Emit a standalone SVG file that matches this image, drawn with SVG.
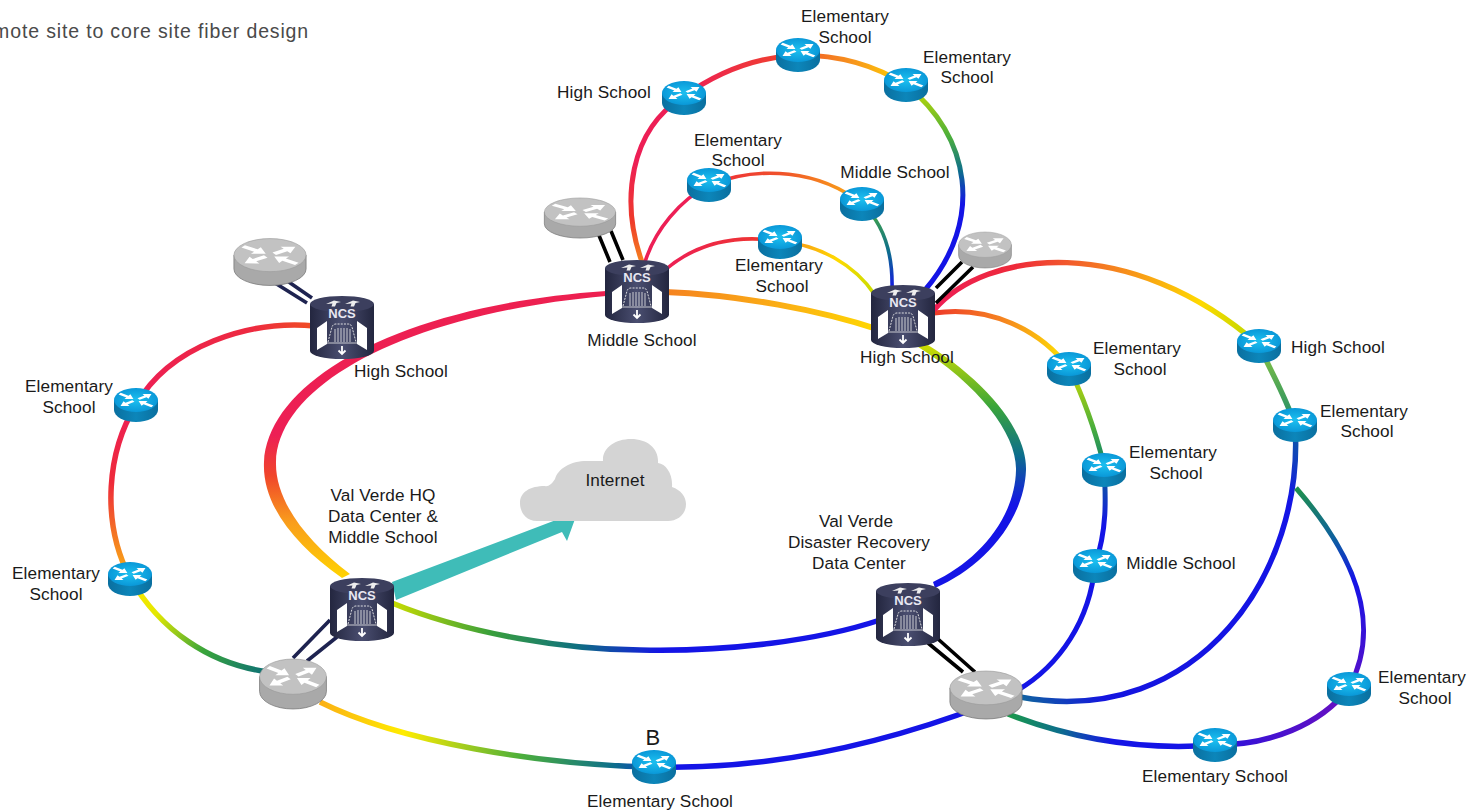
<svg xmlns="http://www.w3.org/2000/svg" xmlns:xlink="http://www.w3.org/1999/xlink" width="1470" height="812" viewBox="0 0 1470 812">
<style>
text{font-family:"Liberation Sans",Arial,sans-serif;font-size:17.2px;letter-spacing:.1px;fill:#1a1a1a;text-anchor:middle}
.title{font-size:19.5px;letter-spacing:.85px;fill:#4a4a4a;text-anchor:end}
.ncs{font-size:13px;letter-spacing:0;font-weight:bold;fill:#e8e8f2}
.c{fill:none;stroke-linecap:butt}
.w5{stroke-width:5.5px}.w4{stroke-width:5px}.w3{stroke-width:3.6px}
.navy{stroke:#1e2350;stroke-width:3.6px;fill:none}
.blk{stroke:#000;stroke-width:3.6px;fill:none}
</style>
<defs>
<linearGradient id="side" x1="0" x2="1" y1="0" y2="0"><stop offset="0" stop-color="#0a6f9f"/><stop offset=".5" stop-color="#0c86ba"/><stop offset="1" stop-color="#0a6f9f"/></linearGradient>
<radialGradient id="topb"><stop offset="0" stop-color="#1cc0f0"/><stop offset="1" stop-color="#0a98d8"/></radialGradient>
<linearGradient id="nside" x1="0" x2="1" y1="0" y2="0"><stop offset="0" stop-color="#23263f"/><stop offset=".5" stop-color="#4a4e70"/><stop offset="1" stop-color="#23263f"/></linearGradient>
<polygon id="aout" fill="#fff" points="3,-1.8 11,-1.8 11,-5 18,0 11,5 11,1.8 3,1.8"/>
<polygon id="ain" fill="#fff" points="3,0 10,-5 10,-1.8 19,-1.8 19,1.8 10,1.8 10,5"/>
<g id="xg" transform="scale(1.05,.58)"><use href="#aout" transform="rotate(-35)"/><use href="#aout" transform="rotate(145)"/><use href="#ain" transform="rotate(35)"/><use href="#ain" transform="rotate(215)"/></g>
<g id="rb"><path fill="url(#side)" d="M-22,-5 V5 A22,12 0 0 0 22,5 V-5 Z"/><ellipse cy="-5" rx="22" ry="12" fill="url(#topb)"/><use href="#xg" y="-5"/></g>
<g id="rg"><path fill="#a9a9a9" stroke="#777" stroke-width=".5" d="M-22,-5 V5 A22,12 0 0 0 22,5 V-5 Z"/><ellipse cy="-5" rx="22" ry="12" fill="#c2c2c2" stroke="#999" stroke-width=".4"/><use href="#xg" y="-5"/></g>
<g id="ncsn">
<path fill="url(#nside)" d="M-32,-23 V24 A32,8 0 0 0 32,24 V-23 Z"/>
<ellipse cy="-23" rx="32" ry="8" fill="#3c3f5e"/>
<path fill="#eee" d="M-16,-23 L-8,-26.5 L-1,-25 L-5.5,-24 L-7,-20.5 L-10.5,-20.5 L-9.5,-23.5 Z M3,-23 L11,-26.5 L18,-25 L13.5,-24 L12,-20.5 L8.5,-20.5 L9.5,-23.5 Z"/>
<text class="ncs" y="-8.8">NCS</text>
<path fill="#fff" d="M-25,1 L-15,-6 V17 L-25,23 Z M25,1 L15,-6 V17 L25,23 Z"/>
<path fill="none" stroke="#eee" stroke-width=".9" stroke-dasharray="2 1.2" d="M-14,15 L-10,0 Q-9,-3 -6,-3 H6 Q9,-3 10,0 L14,15"/>
<path fill="none" stroke="#eee" stroke-width=".8" d="M-15,16 H15 M-7,15 V2 M-4,15 V1 M-1,15 V1 M2,15 V1 M5,15 V1 M8,15 V2"/>
<path fill="none" stroke="#fff" stroke-width="1.8" d="M0,19 V27 M-3.5,23.5 L0,27 L3.5,23.5"/>
</g>

<linearGradient id="ringL" gradientUnits="userSpaceOnUse" x1="0" y1="580" x2="0" y2="290"><stop offset="0" stop-color="#ffd500"/><stop offset=".2" stop-color="#f99d1c"/><stop offset=".36" stop-color="#f0452a"/><stop offset=".5" stop-color="#ed1f55"/><stop offset="1" stop-color="#ed2050"/></linearGradient>
<linearGradient id="ringT" gradientUnits="userSpaceOnUse" x1="665" y1="292" x2="880" y2="330"><stop offset="0" stop-color="#f58220"/><stop offset=".55" stop-color="#fbb014"/><stop offset="1" stop-color="#ffd900"/></linearGradient>
<linearGradient id="ringR" gradientUnits="userSpaceOnUse" x1="0" y1="345" x2="0" y2="590"><stop offset="0" stop-color="#cfdc00"/><stop offset=".25" stop-color="#3aa53a"/><stop offset=".45" stop-color="#0d6e8c"/><stop offset=".65" stop-color="#1414e6"/><stop offset="1" stop-color="#1414e6"/></linearGradient>
<linearGradient id="ringB" gradientUnits="userSpaceOnUse" x1="392" y1="0" x2="880" y2="0"><stop offset="0" stop-color="#c8dc00"/><stop offset=".2" stop-color="#3aa03a"/><stop offset=".38" stop-color="#0f6f80"/><stop offset=".55" stop-color="#1414e6"/><stop offset="1" stop-color="#1414e6"/></linearGradient>

<linearGradient id="g1" gradientUnits="userSpaceOnUse" x1="315" y1="326" x2="136" y2="405"><stop offset="0" stop-color="#f04e23"/><stop offset=".3" stop-color="#ed2a40"/><stop offset="1" stop-color="#ed1f55"/></linearGradient>
<linearGradient id="g2" gradientUnits="userSpaceOnUse" x1="0" y1="405" x2="0" y2="578"><stop offset="0" stop-color="#ed1f55"/><stop offset=".45" stop-color="#ee2a3a"/><stop offset=".8" stop-color="#f58220"/><stop offset="1" stop-color="#fbb014"/></linearGradient>
<linearGradient id="g3" gradientUnits="userSpaceOnUse" x1="130" y1="578" x2="270" y2="672"><stop offset="0" stop-color="#ffe600"/><stop offset=".25" stop-color="#e4e800"/><stop offset=".6" stop-color="#3aa53a"/><stop offset="1" stop-color="#0b6e78"/></linearGradient>
<linearGradient id="g4" gradientUnits="userSpaceOnUse" x1="320" y1="0" x2="654" y2="0"><stop offset="0" stop-color="#fbb014"/><stop offset=".25" stop-color="#ffec00"/><stop offset=".6" stop-color="#4caf3a"/><stop offset=".88" stop-color="#0d6e8c"/><stop offset="1" stop-color="#1040c0"/></linearGradient>
<linearGradient id="g7" gradientUnits="userSpaceOnUse" x1="1008" y1="0" x2="1215" y2="0"><stop offset="0" stop-color="#1a9a4a"/><stop offset=".25" stop-color="#0d6e8c"/><stop offset=".5" stop-color="#1414e6"/><stop offset="1" stop-color="#1414e6"/></linearGradient>
<linearGradient id="g8" gradientUnits="userSpaceOnUse" x1="1215" y1="0" x2="1349" y2="0"><stop offset="0" stop-color="#2a12dc"/><stop offset="1" stop-color="#6a10c0"/></linearGradient>
<linearGradient id="g9" gradientUnits="userSpaceOnUse" x1="0" y1="490" x2="0" y2="688"><stop offset="0" stop-color="#1f8f4f"/><stop offset=".25" stop-color="#0d5fa0"/><stop offset=".45" stop-color="#1414e6"/><stop offset="1" stop-color="#5a10c8"/></linearGradient>
<linearGradient id="g6" gradientUnits="userSpaceOnUse" x1="1295" y1="425" x2="1022" y2="698"><stop offset="0" stop-color="#0d5fa0"/><stop offset=".15" stop-color="#1414e6"/><stop offset=".85" stop-color="#1414e0"/><stop offset="1" stop-color="#0f62a0"/></linearGradient>
<linearGradient id="g11" gradientUnits="userSpaceOnUse" x1="0" y1="465" x2="0" y2="565"><stop offset="0" stop-color="#0d6e8c"/><stop offset=".6" stop-color="#1414e6"/></linearGradient>
<linearGradient id="g12" gradientUnits="userSpaceOnUse" x1="0" y1="368" x2="0" y2="465"><stop offset="0" stop-color="#d0dc00"/><stop offset=".6" stop-color="#4caf3a"/><stop offset="1" stop-color="#0d8070"/></linearGradient>
<linearGradient id="g13" gradientUnits="userSpaceOnUse" x1="934" y1="0" x2="1069" y2="0"><stop offset="0" stop-color="#ee3a2a"/><stop offset=".5" stop-color="#f58220"/><stop offset="1" stop-color="#ffe600"/></linearGradient>
<linearGradient id="g14" gradientUnits="userSpaceOnUse" x1="934" y1="0" x2="1259" y2="0"><stop offset="0" stop-color="#ed1f55"/><stop offset=".25" stop-color="#ee2a3a"/><stop offset=".55" stop-color="#f58220"/><stop offset=".82" stop-color="#ffd900"/><stop offset="1" stop-color="#b8d800"/></linearGradient>
<linearGradient id="g15" gradientUnits="userSpaceOnUse" x1="0" y1="345" x2="0" y2="425"><stop offset="0" stop-color="#8cc63f"/><stop offset="1" stop-color="#1a8a6a"/></linearGradient>
<linearGradient id="g16" gradientUnits="userSpaceOnUse" x1="0" y1="262" x2="0" y2="97"><stop offset="0" stop-color="#f58220"/><stop offset=".25" stop-color="#ee3a2a"/><stop offset=".6" stop-color="#ed1f55"/></linearGradient>
<linearGradient id="g17" gradientUnits="userSpaceOnUse" x1="683" y1="0" x2="798" y2="0"><stop offset="0" stop-color="#ed1f55"/><stop offset="1" stop-color="#f0452a"/></linearGradient>
<linearGradient id="g18" gradientUnits="userSpaceOnUse" x1="798" y1="0" x2="906" y2="0"><stop offset="0" stop-color="#f0552a"/><stop offset=".5" stop-color="#f7941d"/><stop offset="1" stop-color="#ffd500"/></linearGradient>
<linearGradient id="g19" gradientUnits="userSpaceOnUse" x1="0" y1="85" x2="0" y2="290"><stop offset="0" stop-color="#c8dc00"/><stop offset=".25" stop-color="#4caf3a"/><stop offset=".42" stop-color="#0d6e8c"/><stop offset=".58" stop-color="#1414e6"/></linearGradient>
<linearGradient id="g21" gradientUnits="userSpaceOnUse" x1="709" y1="0" x2="862" y2="0"><stop offset="0" stop-color="#ee2a3a"/><stop offset=".5" stop-color="#f0552a"/><stop offset="1" stop-color="#fbb014"/></linearGradient>
<linearGradient id="g22" gradientUnits="userSpaceOnUse" x1="0" y1="204" x2="0" y2="290"><stop offset="0" stop-color="#4caf3a"/><stop offset=".55" stop-color="#0d6e8c"/><stop offset="1" stop-color="#1414e6"/></linearGradient>
<linearGradient id="g23" gradientUnits="userSpaceOnUse" x1="665" y1="0" x2="780" y2="0"><stop offset="0" stop-color="#ed1f55"/><stop offset="1" stop-color="#ee3a2a"/></linearGradient>
<linearGradient id="g24" gradientUnits="userSpaceOnUse" x1="780" y1="0" x2="875" y2="0"><stop offset="0" stop-color="#f58220"/><stop offset=".6" stop-color="#ffd900"/><stop offset="1" stop-color="#c8dc00"/></linearGradient>
</defs>

<text class="title" x="309" y="38">mote site to core site fiber design</text>

<g id="connectors">
<path fill="url(#ringL)" d="M342,578 C295,545 262,505 264,462 C268,380 400,305 606,291 L606,296 C405,314 278,385 276,462 C275,500 305,540 350,574 Z"/>
<path class="c" stroke="url(#ringT)" stroke-width="6" d="M665,292 C740,295 820,310 880,330"/>
<path fill="url(#ringR)" d="M918,339 C985,378 1027,430 1026,470 C1024,522 982,568 935,588 L933,582 C976,562 1015,520 1016,470 C1017,435 980,385 915,345 Z"/>
<path class="c" stroke="url(#ringB)" stroke-width="5.5" d="M392,603 C470,635 570,650 640,650 C730,652 820,640 880,620"/>
<path class="c w5" stroke="url(#g1)" d="M315,326 C250,320 170,345 136,405"/>
<path class="c w5" stroke="url(#g2)" d="M136,405 C108,450 100,520 130,578"/>
<path class="c w5" stroke="url(#g3)" d="M130,578 C160,630 210,665 270,672"/>
<path class="c w5" stroke="url(#g4)" d="M320,702 C400,742 540,765 654,767"/>
<path class="c w5" stroke="#1414e6" d="M654,767 C770,770 880,745 985,705"/>
<path class="c w5" stroke="url(#g6)" d="M1295,425 C1305,570 1200,730 1020,697"/>
<path class="c w5" stroke="url(#g7)" d="M1008,714 C1080,742 1150,750 1215,745"/>
<path class="c w5" stroke="url(#g8)" d="M1215,745 C1270,745 1320,725 1349,688"/>
<path class="c w4" stroke="url(#g9)" d="M1349,688 C1385,620 1350,550 1296,488"/>
<path class="c w4" stroke="#1414e6" d="M1018,690 C1060,665 1090,620 1095,565"/>
<path class="c w4" stroke="url(#g11)" d="M1095,565 C1107,530 1106,500 1104,465"/>
<path class="c w4" stroke="url(#g12)" d="M1104,465 C1095,430 1085,400 1069,368"/>
<path class="c w4" stroke="url(#g13)" d="M934,313 C990,305 1040,330 1069,368"/>
<path class="c w5" stroke="url(#g14)" d="M934,310 C985,250 1130,232 1259,345"/>
<path class="c w5" stroke="url(#g15)" d="M1259,345 C1270,370 1285,395 1295,425"/>
<path class="c w4" stroke="url(#g16)" d="M642,262 C620,200 630,130 683,97"/>
<path class="c w4" stroke="url(#g17)" d="M683,97 C720,70 760,57 798,55"/>
<path class="c w4" stroke="url(#g18)" d="M798,55 C840,55 875,65 906,85"/>
<path class="c w4" stroke="url(#g19)" d="M906,85 C970,135 985,220 925,290"/>
<path class="c w3" stroke="#ed1f55" d="M645,262 C655,230 680,200 709,185"/>
<path class="c w3" stroke="url(#g21)" d="M709,185 C760,165 820,170 862,204"/>
<path class="c w3" stroke="url(#g22)" d="M862,204 C885,225 893,255 892,290"/>
<path class="c w3" stroke="url(#g23)" d="M665,270 C700,240 740,235 780,241"/>
<path class="c w3" stroke="url(#g24)" d="M780,241 C820,245 855,265 875,295"/>
<path class="navy" d="M283,278 L312,298 M275,283 L307,303"/>
<path class="blk" d="M598,233 L610,262 M611,231 L623,260"/>
<path class="blk" d="M962,262 L936,288 M973,267 L936,303"/>
<path class="navy" d="M330,620 L293,658 M337,637 L307,661"/>
<path class="blk" d="M928,643 L963,672 M938,639 L975,672"/>
<path fill="#3fbcb8" d="M392,582 L556,520 L553,512 L575,519 L567,541 L562,532 L396,600 Z"/>
</g>

<g id="cloud"><path fill="#d4d4d4" d="M537,521 C524,521 520,510 520,503 C520,492 530,486 545,486 C548,487 552,484 555,479 C558,468 572,460 590,461 H603 C602,448 615,439 631,439 C648,439 659,449 658,463 C666,464 673,474 672,487 C681,490 686,497 686,504 C686,515 677,521 668,521 Z"/><text x="615" y="486">Internet</text></g>

<g id="gray-hs"><use href="#rg" transform="translate(270,262) scale(1.64,1.38)"/></g>
<g id="gray-ms"><use href="#rg" transform="translate(580,218) scale(1.62,1.18)"/></g>
<g id="gray-hs2"><use href="#rg" transform="translate(985,250) scale(1.2,1.06)"/></g>
<g id="gray-hq"><use href="#rg" transform="translate(293,684) scale(1.52,1.47)"/></g>
<g id="gray-dr"><use href="#rg" transform="translate(986,695) scale(1.64,1.41)"/></g>

<g id="ncs-hs"><use href="#ncsn" x="342" y="327"/><text x="401" y="377">High School</text></g>
<g id="ncs-ms"><use href="#ncsn" x="637" y="291"/><text x="642" y="346">Middle School</text></g>
<g id="ncs-hs2"><use href="#ncsn" x="903" y="316"/><text x="907" y="363">High School</text></g>
<g id="ncs-hq"><use href="#ncsn" x="362" y="609"/><text x="383" y="501">Val Verde HQ</text><text x="383" y="522">Data Center &amp;</text><text x="383" y="543">Middle School</text></g>
<g id="ncs-dr"><use href="#ncsn" x="908" y="614"/><text x="856" y="527">Val Verde</text><text x="859" y="548">Disaster Recovery</text><text x="859" y="569">Data Center</text></g>

<g id="r1"><use href="#rb" x="136" y="405"/><text x="69" y="392">Elementary</text><text x="69" y="413">School</text></g>
<g id="r2"><use href="#rb" x="130" y="579"/><text x="56" y="579">Elementary</text><text x="56" y="600">School</text></g>
<g id="r3"><use href="#rb" x="654" y="767"/><text x="653" y="745" style="font-size:22px">B</text><text x="660" y="807">Elementary School</text></g>
<g id="r4"><use href="#rb" x="684" y="98"/><text x="604" y="98">High School</text></g>
<g id="r5"><use href="#rb" x="798" y="55"/><text x="845" y="22">Elementary</text><text x="845" y="43">School</text></g>
<g id="r6"><use href="#rb" x="906" y="85"/><text x="967" y="63">Elementary</text><text x="967" y="83">School</text></g>
<g id="r7"><use href="#rb" x="709" y="185"/><text x="738" y="146">Elementary</text><text x="738" y="166">School</text></g>
<g id="r8"><use href="#rb" x="862" y="204"/><text x="895" y="178">Middle School</text></g>
<g id="r9"><use href="#rb" x="780" y="242"/><text x="779" y="271">Elementary</text><text x="782" y="292">School</text></g>
<g id="r10"><use href="#rb" x="1069" y="369"/><text x="1137" y="354">Elementary</text><text x="1140" y="375">School</text></g>
<g id="r11"><use href="#rb" x="1259" y="346"/><text x="1338" y="353">High School</text></g>
<g id="r12"><use href="#rb" x="1295" y="425"/><text x="1364" y="417">Elementary</text><text x="1367" y="437">School</text></g>
<g id="r13"><use href="#rb" x="1104" y="470"/><text x="1173" y="458">Elementary</text><text x="1176" y="479">School</text></g>
<g id="r14"><use href="#rb" x="1095" y="566"/><text x="1181" y="569">Middle School</text></g>
<g id="r15"><use href="#rb" x="1349" y="689"/><text x="1422" y="683">Elementary</text><text x="1425" y="704">School</text></g>
<g id="r16"><use href="#rb" x="1215" y="745"/><text x="1215" y="782">Elementary School</text></g>
</svg>
